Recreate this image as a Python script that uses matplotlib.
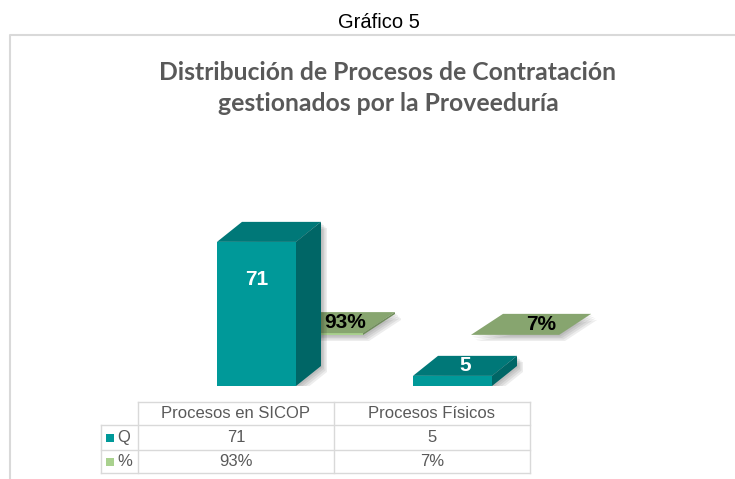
import numpy as np
import matplotlib.pyplot as plt
from matplotlib.patches import Polygon

plt.rcParams['font.family'] = ['Liberation Sans', 'DejaVu Sans']

# datos
categorias = ["Procesos en SICOP", "Procesos Físicos"]
cantidad = [71, 5]
porcentaje = [0.93, 0.07]
etiq_pct = ["93%", "7%"]
series = ["Q", "%"]

W, H = 735, 479
fig = plt.figure(figsize=(W / 100, H / 100), dpi=100)

# capa de fondo en pixeles
bg = fig.add_axes([0, 0, 1, 1])
bg.set_xlim(0, W)
bg.set_ylim(H, 0)
bg.axis('off')

gris = '#d9d9d9'
texto_gris = '#595959'

bg.text(379, 22, "Gráfico 5", ha='center', va='center', fontsize=14.5, color='black')
# borde del grafico
bg.plot([10, 10, W + 5], [H + 5, 35, 35], color=gris, lw=1.5)

bg.text(388, 72, "Distribución de Procesos de Contratación", ha='center', va='center',
        fontsize=17.8, fontweight='bold', color=texto_gris, family=['Lato', 'DejaVu Sans'])
bg.text(388, 103, "gestionados por la Proveeduría", ha='center', va='center',
        fontsize=17.8, fontweight='bold', color=texto_gris, family=['Lato', 'DejaVu Sans'])

# ejes de las barras (escala de pixeles)
x_izq, x_der, y_base, y_top = 138, 700, 386, 150
px_cat = 196.0
px_val = 2.03
ax = fig.add_axes([x_izq / W, (H - y_base) / H, (x_der - x_izq) / W, (y_base - y_top) / H])
ax.set_xlim(-0.5, (x_der - x_izq) / px_cat - 0.5)
ax.set_ylim(0, (y_base - y_top) / px_val)
ax.axis('off')


def caja(x0, base, val, w, ddx, ddy, c_frente, c_top, c_lado, z):
    top = val + base
    # sombra difusa abajo a la derecha
    for k in range(1, 5):
        o = k * 1.5
        sh = Polygon([(x0 + w + o / px_cat, base - o / px_val),
                      (x0 + w + ddx + o / px_cat, base + ddy - o / px_val),
                      (x0 + w + ddx + o / px_cat, top + ddy - o / px_val),
                      (x0 + o / px_cat, top - o / px_val),
                      (x0 + o / px_cat, base - o / px_val)],
                     closed=True, color='#000000', alpha=0.07, lw=0, zorder=z - 1)
        ax.add_patch(sh)
    ax.bar(x0, val, width=w, bottom=base, align='edge', color=c_frente, lw=0, zorder=z)
    ax.add_patch(Polygon([(x0, top), (x0 + w, top), (x0 + w + ddx, top + ddy), (x0 + ddx, top + ddy)],
                         closed=True, color=c_top, lw=0, zorder=z))
    ax.add_patch(Polygon([(x0 + w, base), (x0 + w, top), (x0 + w + ddx, top + ddy), (x0 + w + ddx, base + ddy)],
                         closed=True, color=c_lado, lw=0, zorder=z))


xs = np.arange(len(categorias))
x_frente = xs - 0.5 + (217 - x_izq) / px_cat

# fila de atras: porcentajes
w_g = 88 / px_cat
dx_g, dy_g = 32 / px_cat, 21 / px_val
off_x, off_y = 58 / px_cat, 51 / px_val
for i in range(len(categorias)):
    x0 = x_frente[i] + off_x
    v = porcentaje[i]
    caja(x0, off_y, v, w_g, dx_g, dy_g, '#a9d18e', '#87a56f', '#6f8c5a', 2)
    ax.text(x0 + w_g / 2 + dx_g / 2 + 10 / px_cat, off_y + v + dy_g / 2, etiq_pct[i],
            ha='center', va='center', fontsize=15, fontweight='bold', color='black', zorder=6)

# fila de adelante: cantidades
w_t = 79 / px_cat
dx_t, dy_t = 25 / px_cat, 20 / px_val
for i in range(len(categorias)):
    x0 = x_frente[i]
    v = cantidad[i]
    caja(x0, 0, v, w_t, dx_t, dy_t, '#009999', '#007878', '#006666', 4)
    if v > 20:
        ax.text(x0 + w_t / 2, v - 18.5, str(v), ha='center', va='center',
                fontsize=15, fontweight='bold', color='white', zorder=6)
    else:
        ax.text(x0 + w_t / 2 + dx_t / 2, v + dy_t / 2, str(v), ha='center', va='center',
                fontsize=15, fontweight='bold', color='white', zorder=6)

# tabla de datos
filas_y = [402, 425, 450, 473]
cols_x = [101, 138, 334, 530]
lc = '#d9d9d9'
bg.plot([cols_x[1], cols_x[3]], [filas_y[0]] * 2, color=lc, lw=1)
for yy in filas_y[1:]:
    bg.plot([cols_x[0], cols_x[3]], [yy] * 2, color=lc, lw=1)
bg.plot([cols_x[0]] * 2, [filas_y[1], filas_y[3]], color=lc, lw=1)
for xx in cols_x[1:]:
    bg.plot([xx] * 2, [filas_y[0], filas_y[3]], color=lc, lw=1)

for j, cat in enumerate(categorias):
    cx = (cols_x[j + 1] + cols_x[j + 2]) / 2
    bg.text(cx, (filas_y[0] + filas_y[1]) / 2, cat, ha='center', va='center', fontsize=12, color=texto_gris)
    bg.text(cx, (filas_y[1] + filas_y[2]) / 2, str(cantidad[j]), ha='center', va='center', fontsize=12, color=texto_gris)
    bg.text(cx, (filas_y[2] + filas_y[3]) / 2, etiq_pct[j], ha='center', va='center', fontsize=12, color=texto_gris)

colores_leyenda = ['#009999', '#a9d18e']
for r, s in enumerate(series):
    cy = (filas_y[r + 1] + filas_y[r + 2]) / 2
    bg.add_patch(plt.Rectangle((106, cy - 4), 8, 8, color=colores_leyenda[r], lw=0))
    bg.text(117, cy, s, ha='left', va='center', fontsize=12, color=texto_gris)

fig.savefig('out.png', dpi=100)
